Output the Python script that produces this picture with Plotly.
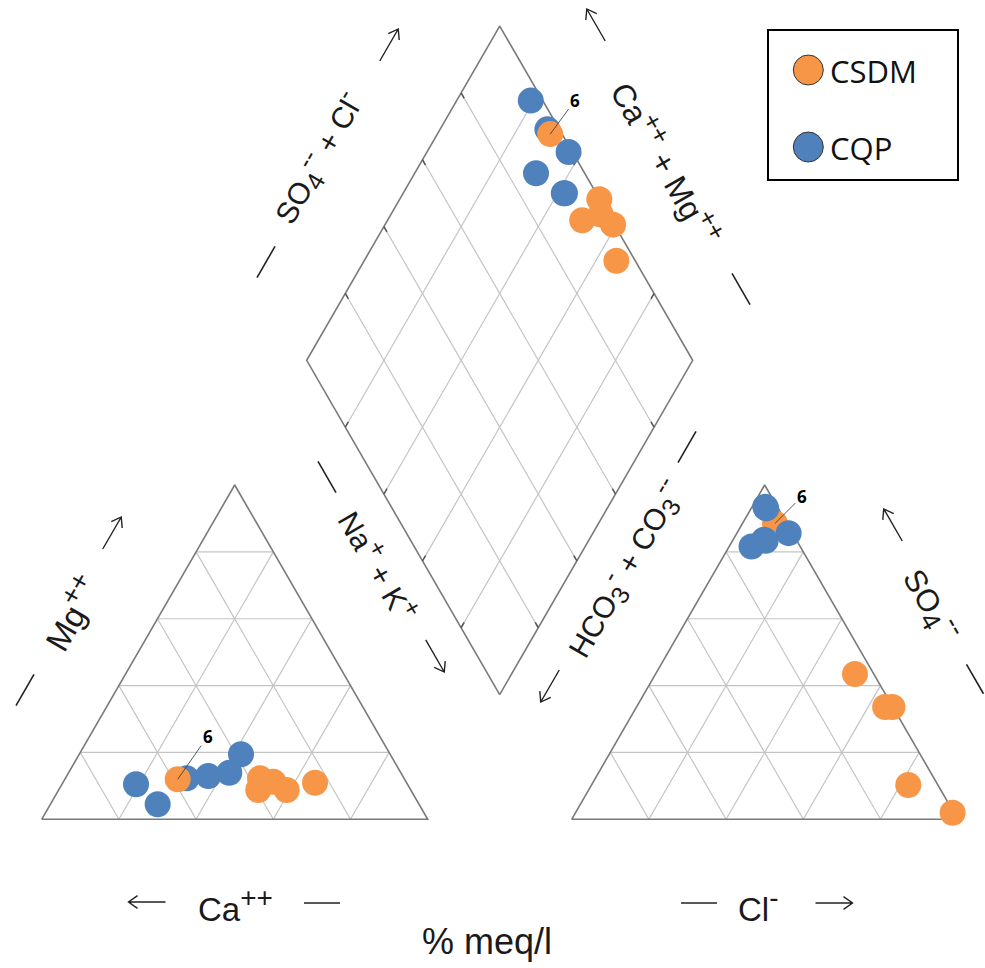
import math
import plotly.graph_objects as go

# ---------------- data ----------------
series_names = ["CSDM", "CQP"]
series_colors = ["#F79646", "#4F81BD"]

# cations, % meq/l
csdm_mg = [11.97, 12.26, 10.95, 8.76, 8.76, 11.25]
csdm_nak = [29.25, 50.42, 65.33, 59.09, 51.73, 54.38]
cqp_mg = [10.47, 4.49, 12.26, 12.95, 13.94, 19.44]
cqp_nak = [19.2, 27.8, 31.43, 36.69, 41.63, 41.91]
# anions, % meq/l
csdm_so4 = [88.5, 10.26, 43.46, 1.97, 33.6, 33.6]
csdm_cl = [8.42, 82.07, 51.67, 97.7, 66.3, 64.4]
cqp_so4 = [93.5, 93.0, 81.6, 85.6, 83.6, 83.3]
cqp_cl = [3.4, 3.9, 5.8, 13.4, 8.0, 8.6]

labelled_sample = 0          # index of sample "6" in CSDM
labelled_text = "6"
grid_steps = [20, 40, 60, 80]

# ---------------- geometry ----------------
S3 = math.sqrt(3) / 2
GAP = 37.3                   # gap between the two triangles (units of 100 %)
OFF = 100 + GAP              # x-offset of the anion triangle
BX, BY = 100 + GAP / 2, GAP * S3   # bottom vertex of the diamond
PX = 3.86                    # pixels per unit
X0PX, Y0PX = 41.7, 819.3     # pixel position of data origin
W, H = 985, 968


def cat_xy(mg, nak):
    return nak + mg / 2, mg * S3


def an_xy(so4, cl):
    return OFF + cl + so4 / 2, so4 * S3


def dia_xy(nak, so4, cl):
    a = so4 + cl
    u = 100 - nak
    return BX - 0.5 * u + 0.5 * a, BY + S3 * (u + a)


fig = go.Figure()

# ---------------- grid + outlines ----------------
gx, gy = [], []
tx, ty = [], []


def seg(lst_x, lst_y, p, q):
    lst_x += [p[0], q[0], None]
    lst_y += [p[1], q[1], None]


for off in (0, OFF):
    for k in grid_steps:
        seg(gx, gy, (off + k / 2, k * S3), (off + 100 - k / 2, k * S3))
        seg(gx, gy, (off + k, 0), (off + k / 2 + 50, (100 - k) * S3))
        seg(gx, gy, (off + 100 - k, 0), (off + (100 - k) / 2, (100 - k) * S3))

L = (BX - 50, BY + 100 * S3)
R = (BX + 50, BY + 100 * S3)
T = (BX, BY + 200 * S3)
stub = 1.6
for k in grid_steps:
    p = (BX - 0.5 * k, BY + S3 * k)
    q = (p[0] + 50, p[1] + 100 * S3)
    seg(gx, gy, p, q)
    seg(tx, ty, p, (p[0] + 0.5 * stub, p[1] + S3 * stub))
    seg(tx, ty, q, (q[0] - 0.5 * stub, q[1] - S3 * stub))
    p = (BX + 0.5 * k, BY + S3 * k)
    q = (p[0] - 50, p[1] + 100 * S3)
    seg(gx, gy, p, q)
    seg(tx, ty, p, (p[0] - 0.5 * stub, p[1] + S3 * stub))
    seg(tx, ty, q, (q[0] + 0.5 * stub, q[1] - S3 * stub))

fig.add_trace(go.Scatter(x=gx, y=gy, mode="lines", hoverinfo="skip",
                         line=dict(color="#c4c4c4", width=1.2), showlegend=False))

ox, oy = [], []
for off in (0, OFF):
    for p in [(off, 0), (off + 100, 0), (off + 50, 100 * S3), (off, 0)]:
        ox.append(p[0]); oy.append(p[1])
    ox.append(None); oy.append(None)
for p in [(BX, BY), R, T, L, (BX, BY)]:
    ox.append(p[0]); oy.append(p[1])
fig.add_trace(go.Scatter(x=ox, y=oy, mode="lines", hoverinfo="skip",
                         line=dict(color="#7a7a7a", width=1.6), showlegend=False))
fig.add_trace(go.Scatter(x=tx, y=ty, mode="lines", hoverinfo="skip",
                         line=dict(color="#555555", width=1.5), showlegend=False))

# ---------------- points ----------------
data = {
    "CSDM": (csdm_mg, csdm_nak, csdm_so4, csdm_cl),
    "CQP": (cqp_mg, cqp_nak, cqp_so4, cqp_cl),
}
col = dict(zip(series_names, series_colors))
MS = 26


def add_pts(xs, ys, name):
    fig.add_trace(go.Scatter(x=xs, y=ys, mode="markers", showlegend=False,
                             marker=dict(size=MS, color=col[name], line=dict(width=0)),
                             name=name))


cat, an, dia = {}, {}, {}
for name, (mg, nak, so4, cl) in data.items():
    cat[name] = [cat_xy(m, n) for m, n in zip(mg, nak)]
    an[name] = [an_xy(s, c) for s, c in zip(so4, cl)]
    dia[name] = [dia_xy(n, s, c) for n, s, c in zip(nak, so4, cl)]

for name in ["CQP", "CSDM"]:
    add_pts([p[0] for p in cat[name]], [p[1] for p in cat[name]], name)
    add_pts([p[0] for p in dia[name]], [p[1] for p in dia[name]], name)
for name in ["CSDM", "CQP"]:
    add_pts([p[0] for p in an[name]], [p[1] for p in an[name]], name)

# ---------------- layout ----------------
xr = [-X0PX / PX, (W - X0PX) / PX]
yr = [(Y0PX - H) / PX, Y0PX / PX]
fig.update_layout(
    width=W, height=H, margin=dict(l=0, r=0, t=0, b=0),
    paper_bgcolor="white", plot_bgcolor="white",
    xaxis=dict(range=xr, visible=False, fixedrange=True),
    yaxis=dict(range=yr, visible=False, fixedrange=True),
    showlegend=False,
)

# labels for sample 6
lab_off = [(30, -43), (25, -34), (27, -27)]
for (pt, (ax, ay)) in zip([cat["CSDM"][labelled_sample], dia["CSDM"][labelled_sample],
                            an["CSDM"][labelled_sample]], lab_off):
    fig.add_annotation(x=pt[0], y=pt[1], text="<b>%s</b>" % labelled_text,
                       showarrow=True, arrowhead=0, arrowwidth=0.8, arrowcolor="#333333",
                       ax=ax, ay=ay, standoff=0,
                       font=dict(family="Open Sans, Liberation Sans", size=17, color="black"))


def px2paper(px, py):
    return px / W, 1 - py / H


FONT = "Liberation Sans, Arial"
TXT = "#1a1a1a"


def big(s, size):
    return "<span style='font-size:%dpx'>%s</span>" % (size, s)


def sup(s, size=25):
    return "<sup>%s</sup>" % big(s, size)


def sub(s, size=25):
    return "<sub>%s</sub>" % big(s, size)


def label(px, py, text, angle=0, size=30):
    x, y = px2paper(px, py)
    fig.add_annotation(x=x, y=y, xref="paper", yref="paper", text=text,
                       showarrow=False, textangle=angle, xanchor="center", yanchor="middle",
                       font=dict(family=FONT, size=size, color=TXT))


def direction(angle_deg):
    a = math.radians(angle_deg)
    return math.cos(a), math.sin(a)


def pth(points_groups):
    s = ""
    for grp in points_groups:
        for i, (px, py) in enumerate(grp):
            x, y = px2paper(px, py)
            s += ("M" if i == 0 else "L") + " %.5f,%.5f " % (x, y)
    return s


def dash(cx, cy, angle, length=36):
    dx, dy = direction(angle)
    p1 = (cx - dx * length / 2, cy - dy * length / 2)
    p2 = (cx + dx * length / 2, cy + dy * length / 2)
    fig.add_shape(type="path", xref="paper", yref="paper", path=pth([[p1, p2]]),
                  line=dict(color="#222222", width=1.6))


def arrow(cx, cy, angle, length=37, head=11, spread=35):
    dx, dy = direction(angle)
    tail = (cx - dx * length / 2, cy - dy * length / 2)
    tip = (cx + dx * length / 2, cy + dy * length / 2)
    heads = []
    for sgn in (-1, 1):
        b = math.radians(angle + 180 + sgn * spread)
        heads.append((tip[0] + head * math.cos(b), tip[1] + head * math.sin(b)))
    fig.add_shape(type="path", xref="paper", yref="paper",
                  path=pth([[tail, tip], [heads[0], tip, heads[1]]]),
                  line=dict(color="#222222", width=1.4))


# left triangle, left edge
dash(25, 690, -60)
label(70, 612, "Mg" + sup("++", 28), -60, 33)
arrow(112, 533, -60)
# bottom
arrow(147, 902, 180)
label(235, 905, "Ca" + sup("++", 28), 0, 33)
dash(322, 903, 0)
dash(699, 903, 0)
label(758, 905, "Cl" + sup("-", 28), 0, 33)
arrow(834, 903, 0)
label(487, 941, "% meq/l", 0, 36)
# right triangle, right edge
arrow(893, 525, 240)
label(932, 605, "SO" + sub("4", 27) + sup("--", 27), 60, 31)
dash(975, 679, 60, 34)
# diamond upper-left
dash(266, 262, -60)
label(318, 158, "SO" + sub("4") + sup("--") + " + Cl" + sup("-"), -60, 30)
arrow(389, 45, -60)
# diamond upper-right
arrow(596, 25, 240)
label(668, 162, "Ca" + sup("++", 26) + " + Mg" + sup("++", 26), 60, 32)
dash(741, 289, 60)
# diamond lower-left
dash(327, 477, 60)
label(380, 565, "Na" + sup("+") + " + K" + sup("+"), 60, 30)
arrow(435, 656, 60)
# diamond lower-right
dash(687, 447, -60)
label(624, 568, "HCO" + sub("3") + sup("-") + " + CO" + sub("3") + sup("--"), -60, 30)
arrow(550, 686, 120)

# ---------------- legend box ----------------
x0, y1 = px2paper(768, 30)
x1, y0 = px2paper(958, 180)
fig.add_shape(type="rect", xref="paper", yref="paper", x0=x0, x1=x1, y0=y0, y1=y1,
              line=dict(color="black", width=2), fillcolor="white", layer="above")
for i, (name, cy) in enumerate(zip(series_names, [70, 147])):
    cx = 808.3
    r = 15
    a0, b1 = px2paper(cx - r, cy - r)
    a1, b0 = px2paper(cx + r, cy + r)
    fig.add_shape(type="circle", xref="paper", yref="paper", x0=a0, x1=a1, y0=b0, y1=b1,
                  line=dict(color="#333333", width=1), fillcolor=series_colors[i], layer="above")
    tx_, ty_ = px2paper(828, cy + 1)
    fig.add_annotation(x=tx_, y=ty_, xref="paper", yref="paper", text=name, showarrow=False,
                       xanchor="left", yanchor="middle",
                       font=dict(family="Open Sans, Noto Sans", size=31, color="#111111"))

fig.write_html("out.html")
